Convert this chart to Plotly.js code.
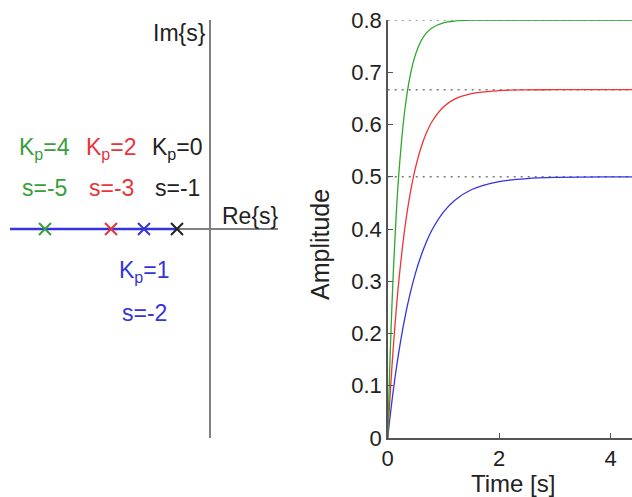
<!DOCTYPE html>
<html>
<head>
<meta charset="utf-8">
<script src="https://cdn.plot.ly/plotly-3.0.1.min.js"></script>
<style>html,body{margin:0;padding:0;background:#fff;}#chart{width:632px;height:497px;}</style>
</head>
<body>
<div id="chart"></div>
<script>
// ---- data ----
const gains = [0, 1, 2, 4];            // Kp values
const poles = [-1, -2, -3, -5];        // closed-loop pole s for each Kp
const poleColors = ['#222222', '#3434d8', '#e8353a', '#3a9e3a'];
const lineColors = ['#222222', '#3333e6', '#ee3333', '#2aa82a'];
const labelSide = ['above', 'below', 'above', 'above'];

const time = [0, 0.025, 0.05, 0.075, 0.1, 0.15, 0.2, 0.3, 0.4, 0.5, 0.6, 0.7, 0.8, 1.0, 1.2, 1.5, 2.0, 2.5, 3.0, 4.0, 4.4];
const respKp1 = [0, 0.0244, 0.0476, 0.0696, 0.0906, 0.1296, 0.1648, 0.2256, 0.2753, 0.3161, 0.3494, 0.3767, 0.3991, 0.4323, 0.4546, 0.4751, 0.4908, 0.4966, 0.4988, 0.4998, 0.4999];
const respKp2 = [0, 0.0482, 0.0929, 0.1343, 0.1728, 0.2416, 0.3008, 0.3956, 0.4659, 0.5179, 0.5565, 0.5850, 0.6062, 0.6335, 0.6485, 0.6593, 0.6650, 0.6663, 0.6666, 0.6667, 0.6667];
const respKp4 = [0, 0.0940, 0.1770, 0.2502, 0.3148, 0.4221, 0.5057, 0.6215, 0.6918, 0.7343, 0.7602, 0.7758, 0.7853, 0.7946, 0.7980, 0.7996, 0.8000, 0.8000, 0.8000, 0.8000, 0.8000];
const finalValues = [0.5, 0.6667, 0.8];
const xTicks = [0, 2, 4];
const yTicks = [0, 0.1, 0.2, 0.3, 0.4, 0.5, 0.6, 0.7, 0.8];

// ---- layout constants ----
const FONT = 'Liberation Sans, Arial, Helvetica, sans-serif';
const reRange = [-6.06, 2.06];
const imRange = [-6.33, 6.33];
const tRange = [0, 4.386];
const LBL = 23;

const traces = [];

// root locus: from open-loop pole towards -infinity
traces.push({x: [poles[0], reRange[0]], y: [0, 0], xaxis: 'x', yaxis: 'y', mode: 'lines',
  line: {color: '#3434e0', width: 2.6}, hoverinfo: 'skip'});
// pole markers
poles.forEach((p, i) => {
  traces.push({x: [p], y: [0], xaxis: 'x', yaxis: 'y', mode: 'markers',
    marker: {symbol: 'x-thin', size: 12, line: {color: poleColors[i], width: 2}}, hoverinfo: 'skip'});
});

// dotted steady-state lines
finalValues.forEach(v => {
  traces.push({x: [tRange[0], tRange[1]], y: [v, v], xaxis: 'x2', yaxis: 'y2', mode: 'lines',
    line: {color: '#7a7a7a', width: 1.5, dash: '2px,5px'}, hoverinfo: 'skip'});
});
// step responses
[[respKp1, lineColors[1]], [respKp2, lineColors[2]], [respKp4, lineColors[3]]].forEach(([ys, c]) => {
  traces.push({x: time, y: ys, xaxis: 'x2', yaxis: 'y2', mode: 'lines',
    line: {color: c, width: 1.3, shape: 'spline', smoothing: 0.8}, hoverinfo: 'skip'});
});

const annotations = [];
poles.forEach((p, i) => {
  const above = labelSide[i] === 'above';
  annotations.push({x: p, y: above ? 2.45 : -1.3, xref: 'x', yref: 'y', showarrow: false,
    text: 'K<sub>p</sub>=' + gains[i], font: {family: FONT, size: LBL, color: poleColors[i]},
    xanchor: 'center', yanchor: 'middle'});
  annotations.push({x: p, y: above ? 1.24 : -2.55, xref: 'x', yref: 'y', showarrow: false,
    text: 's=' + p, font: {family: FONT, size: LBL, color: poleColors[i]},
    xanchor: 'center', yanchor: 'middle'});
});
annotations.push({x: -0.05, y: 5.94, xref: 'x', yref: 'y', showarrow: false, text: 'Im{s}',
  font: {family: FONT, size: LBL, color: '#222'}, xanchor: 'right', yanchor: 'middle'});
annotations.push({x: 0.3, y: 0.38, xref: 'x', yref: 'y', showarrow: false, text: 'Re{s}',
  font: {family: FONT, size: LBL, color: '#222'}, xanchor: 'left', yanchor: 'middle'});
annotations.push({x: 513 / 632, y: (497 - 483) / 497, xref: 'paper', yref: 'paper', showarrow: false,
  text: 'Time [s]', font: {family: FONT, size: 24, color: '#222'}, xanchor: 'center', yanchor: 'middle'});
annotations.push({x: 320 / 632, y: (497 - 245) / 497, xref: 'paper', yref: 'paper', showarrow: false,
  text: 'Amplitude', textangle: -90, font: {family: FONT, size: 25, color: '#222'}, xanchor: 'center', yanchor: 'middle'});

const yDom = [(497 - 438) / 497, (497 - 20) / 497];
const layout = {
  width: 632, height: 497,
  margin: {l: 0, r: 0, t: 0, b: 0},
  paper_bgcolor: '#fff', plot_bgcolor: 'rgba(0,0,0,0)',
  showlegend: false,
  font: {family: FONT, color: '#222'},
  xaxis: {domain: [10 / 632, 278 / 632], range: reRange, showgrid: false, showticklabels: false, ticks: '',
    zeroline: true, zerolinecolor: '#808080', zerolinewidth: 1.5, showline: false, fixedrange: true},
  yaxis: {domain: yDom, range: imRange, showgrid: false, showticklabels: false, ticks: '',
    zeroline: true, zerolinecolor: '#808080', zerolinewidth: 1.5, showline: false, fixedrange: true},
  xaxis2: {domain: [387.7 / 632, 1], range: tRange, anchor: 'y2', showgrid: false, zeroline: false,
    showline: true, linecolor: '#555', linewidth: 1.5, ticks: 'inside', ticklen: 5, tickcolor: '#555',
    tickvals: xTicks, ticktext: xTicks.map(String), tickfont: {family: FONT, size: 22, color: '#222'}},
  yaxis2: {domain: yDom, range: [0, 0.8], anchor: 'x2', showgrid: false, zeroline: false,
    showline: true, linecolor: '#555', linewidth: 1.5, ticks: 'inside', ticklen: 5, tickcolor: '#555',
    tickvals: yTicks, ticktext: yTicks.map(String), tickfont: {family: FONT, size: 22, color: '#222'}},
  annotations: annotations
};

Plotly.newPlot('chart', traces, layout, {staticPlot: true, displayModeBar: false});
</script>
</body>
</html>
